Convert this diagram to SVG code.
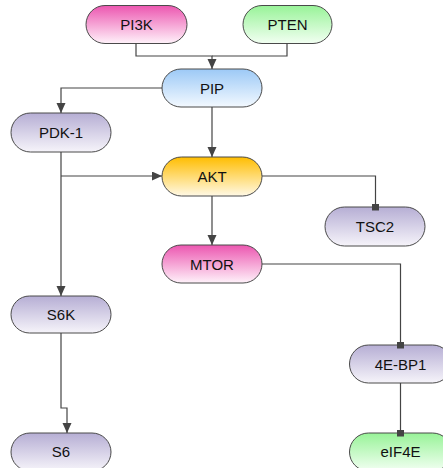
<svg xmlns="http://www.w3.org/2000/svg" width="443" height="468" viewBox="0 0 443 468">
<style>
.n rect{stroke:#4a4a4a;stroke-width:1}
.n text{font-family:"Liberation Sans","Noto Sans",sans-serif;font-size:15px;fill:#111;text-anchor:middle;dominant-baseline:central}
.c path{fill:none;stroke:#444;stroke-width:1.2}
</style>
<defs>
<linearGradient id="gM" x1="0" y1="0" x2="0" y2="1"><stop offset="0" stop-color="#ec56b0"/><stop offset="1" stop-color="#fff2fa"/></linearGradient>
<linearGradient id="gG" x1="0" y1="0" x2="0" y2="1"><stop offset="0" stop-color="#98f398"/><stop offset="1" stop-color="#f2fff2"/></linearGradient>
<linearGradient id="gB" x1="0" y1="0" x2="0" y2="1"><stop offset="0" stop-color="#9cc9f6"/><stop offset="1" stop-color="#f3f9ff"/></linearGradient>
<linearGradient id="gO" x1="0" y1="0" x2="0" y2="1"><stop offset="0" stop-color="#ffbd00"/><stop offset="1" stop-color="#fff9e6"/></linearGradient>
<linearGradient id="gL" x1="0" y1="0" x2="0" y2="1"><stop offset="0" stop-color="#b6aed4"/><stop offset="1" stop-color="#f6f4fa"/></linearGradient>
<marker id="arr" markerUnits="userSpaceOnUse" markerWidth="10" markerHeight="10" refX="10" refY="4.5" orient="auto"><path d="M0,0 L10,4.5 L0,9 z" fill="#444"/></marker>
<marker id="sq" markerUnits="userSpaceOnUse" markerWidth="8" markerHeight="8" refX="3.5" refY="3.5" orient="auto"><rect x="0" y="0" width="7" height="7" fill="#444"/></marker>
</defs>
<g id="PI3K" class="n"><rect x="86" y="5.5" width="101" height="38" rx="19" fill="url(#gM)"/><text x="136.5" y="24.5">PI3K</text></g>
<g id="PTEN" class="n"><rect x="243" y="5.5" width="89" height="38" rx="19" fill="url(#gG)"/><text x="287.5" y="24.5">PTEN</text></g>
<g id="PIP" class="n"><rect x="162" y="69" width="100" height="38" rx="19" fill="url(#gB)"/><text x="212" y="88">PIP</text></g>
<g id="PDK-1" class="n"><rect x="11" y="113" width="100" height="39" rx="19.5" fill="url(#gL)"/><text x="61" y="132.5">PDK-1</text></g>
<g id="AKT" class="n"><rect x="162" y="157" width="100" height="39" rx="19.5" fill="url(#gO)"/><text x="212" y="176.5">AKT</text></g>
<g id="TSC2" class="n"><rect x="325" y="207" width="100" height="39" rx="19.5" fill="url(#gL)"/><text x="375" y="226.5">TSC2</text></g>
<g id="MTOR" class="n"><rect x="162" y="245" width="100" height="38" rx="19" fill="url(#gM)"/><text x="212" y="264">MTOR</text></g>
<g id="S6K" class="n"><rect x="11" y="296" width="100" height="37" rx="18.5" fill="url(#gL)"/><text x="61" y="314.5">S6K</text></g>
<g id="4E-BP1" class="n"><rect x="349.5" y="345" width="102" height="38" rx="19" fill="url(#gL)"/><text x="400.5" y="364">4E-BP1</text></g>
<g id="S6" class="n"><rect x="11" y="433" width="100" height="38" rx="19" fill="url(#gL)"/><text x="61" y="451">S6</text></g>
<g id="eIF4E" class="n"><rect x="349.5" y="433" width="102" height="38" rx="19" fill="url(#gG)"/><text x="400.5" y="451">eIF4E</text></g>
<g id="connectors" class="c">
<path d="M136,43.5 V56 H212 V69" marker-end="url(#arr)"/>
<path d="M287,43.5 V56 H212"/>
<path d="M162,88 H61 V113" marker-end="url(#arr)"/>
<path d="M212,107 V157" marker-end="url(#arr)"/>
<path d="M61,176 H162" marker-end="url(#arr)"/>
<path d="M61,152 V296" marker-end="url(#arr)"/>
<path d="M262,176 H375.5 V207" marker-end="url(#sq)"/>
<path d="M212,196 V245" marker-end="url(#arr)"/>
<path d="M262,264 H400.5 V345" marker-end="url(#sq)"/>
<path d="M400.5,383 V433" marker-end="url(#sq)"/>
<path d="M61,333 V408 H67 V433" marker-end="url(#arr)"/>
</g>
</svg>
